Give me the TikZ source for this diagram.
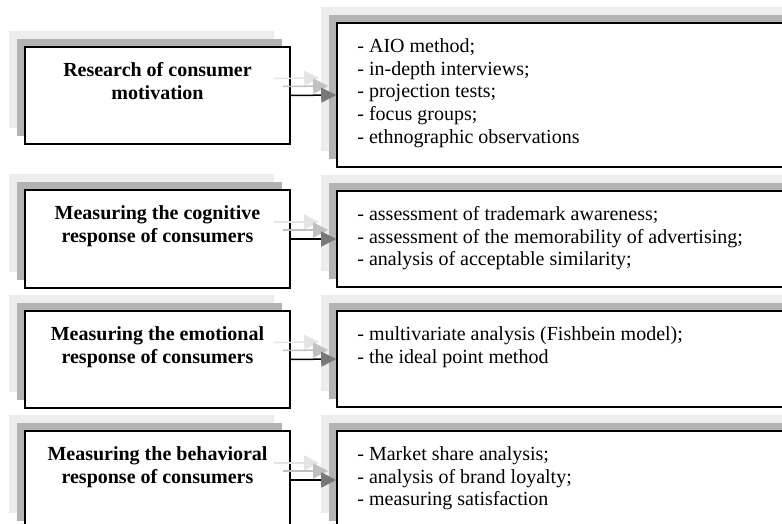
\documentclass[tikz,border=0pt]{standalone}
\usepackage{fontspec}
\setmainfont{Liberation Serif}
\usetikzlibrary{arrows.meta,calc,shadows}

\definecolor{shadelight}{HTML}{EDEDED}
\definecolor{shadedark}{HTML}{B3B3B3}
\definecolor{headgray}{HTML}{787878}
\definecolor{arrowdark}{HTML}{C0C0C0}
\definecolor{arrowlight}{HTML}{E4E4E4}

\tikzset{
  stagebox/.style={rectangle, draw=black, line width=1.6pt, fill=white, inner sep=0pt,
    general shadow={fill=shadelight, shadow xshift=-16pt, shadow yshift=16pt},
    general shadow={fill=shadedark, shadow xshift=-8pt, shadow yshift=8pt}},
  leftbox/.style={stagebox, minimum width=265pt},
  rightbox/.style={stagebox, minimum width=475pt},
  headtext/.style={anchor=north, inner sep=0pt, align=center,
    font=\fontsize{20pt}{22.8pt}\selectfont\bfseries},
  listtext/.style={anchor=north west, inner sep=0pt, align=left,
    font=\fontsize{20pt}{22.8pt}\selectfont},
  link/.style={draw=black, line width=1.5pt,
    -{Triangle[length=15pt,width=15pt,color=headgray,fill=headgray]}},
  linkdark/.style={draw=arrowdark, line width=1.5pt,
    -{Triangle[length=15pt,width=15pt,color=arrowdark,fill=arrowdark]}},
  linklight/.style={draw=arrowlight, line width=1.5pt,
    -{Triangle[length=15pt,width=15pt,color=arrowlight,fill=arrowlight]}},
}

\begin{document}
\begin{tikzpicture}[x=1pt,y=-1pt]
\useasboundingbox (0,0) rectangle (782,524);
\clip (0,0) rectangle (782,524);

% stages on the left
\node[leftbox, minimum height=97pt] (L1) at (157.5,95.5) {};
\node[leftbox, minimum height=98pt] (L2) at (157.5,239) {};
\node[leftbox, minimum height=97pt] (L3) at (157.5,359.5) {};
\node[leftbox, minimum height=98pt] (L4) at (157.5,480) {};

% methods on the right
\node[rightbox, minimum height=144pt] (R1) at (574.5,95) {};
\node[rightbox, minimum height=96pt] (R2) at (574.5,239) {};
\node[rightbox, minimum height=96pt] (R3) at (574.5,359) {};
\node[rightbox, minimum height=98pt] (R4) at (574.5,480) {};

% stage titles
\node[headtext] (T1) at ($(L1.north)+(0,14)$) {\strut Research of consumer\\motivation};
\node[headtext] (T2) at ($(L2.north)+(0,14)$) {\strut Measuring the cognitive\\response of consumers};
\node[headtext] (T3) at ($(L3.north)+(0,14)$) {\strut Measuring the emotional\\response of consumers};
\node[headtext] (T4) at ($(L4.north)+(0,14)$) {\strut Measuring the behavioral\\response of consumers};

% method lists
\node[listtext] (M1) at ($(R1.north west)+(21,14)$) {\strut - AIO method;\\- in-depth interviews;\\- projection tests;\\- focus groups;\\- ethnographic observations};
\node[listtext] (M2) at ($(R2.north west)+(21,14)$) {\strut - assessment of trademark awareness;\\- assessment of the memorability of advertising;\\- analysis of acceptable similarity;};
\node[listtext] (M3) at ($(R3.north west)+(21,14)$) {\strut - multivariate analysis (Fishbein model);\\- the ideal point method};
\node[listtext] (M4) at ($(R4.north west)+(21,14)$) {\strut - Market share analysis;\\- analysis of brand loyalty;\\- measuring satisfaction};

% connectors with their shadows
\foreach \i in {1,2,3,4} {
  \draw[linklight] ($(L\i.east)+(-17,-17)$) -- ($(R\i.west)+(-17,-17)$);
  \draw[linkdark] ($(L\i.east)+(-8,-9)$) -- ($(R\i.west)+(-8,-9)$);
  \draw[link] (L\i.east) -- (R\i.west);
}
\end{tikzpicture}
\end{document}
